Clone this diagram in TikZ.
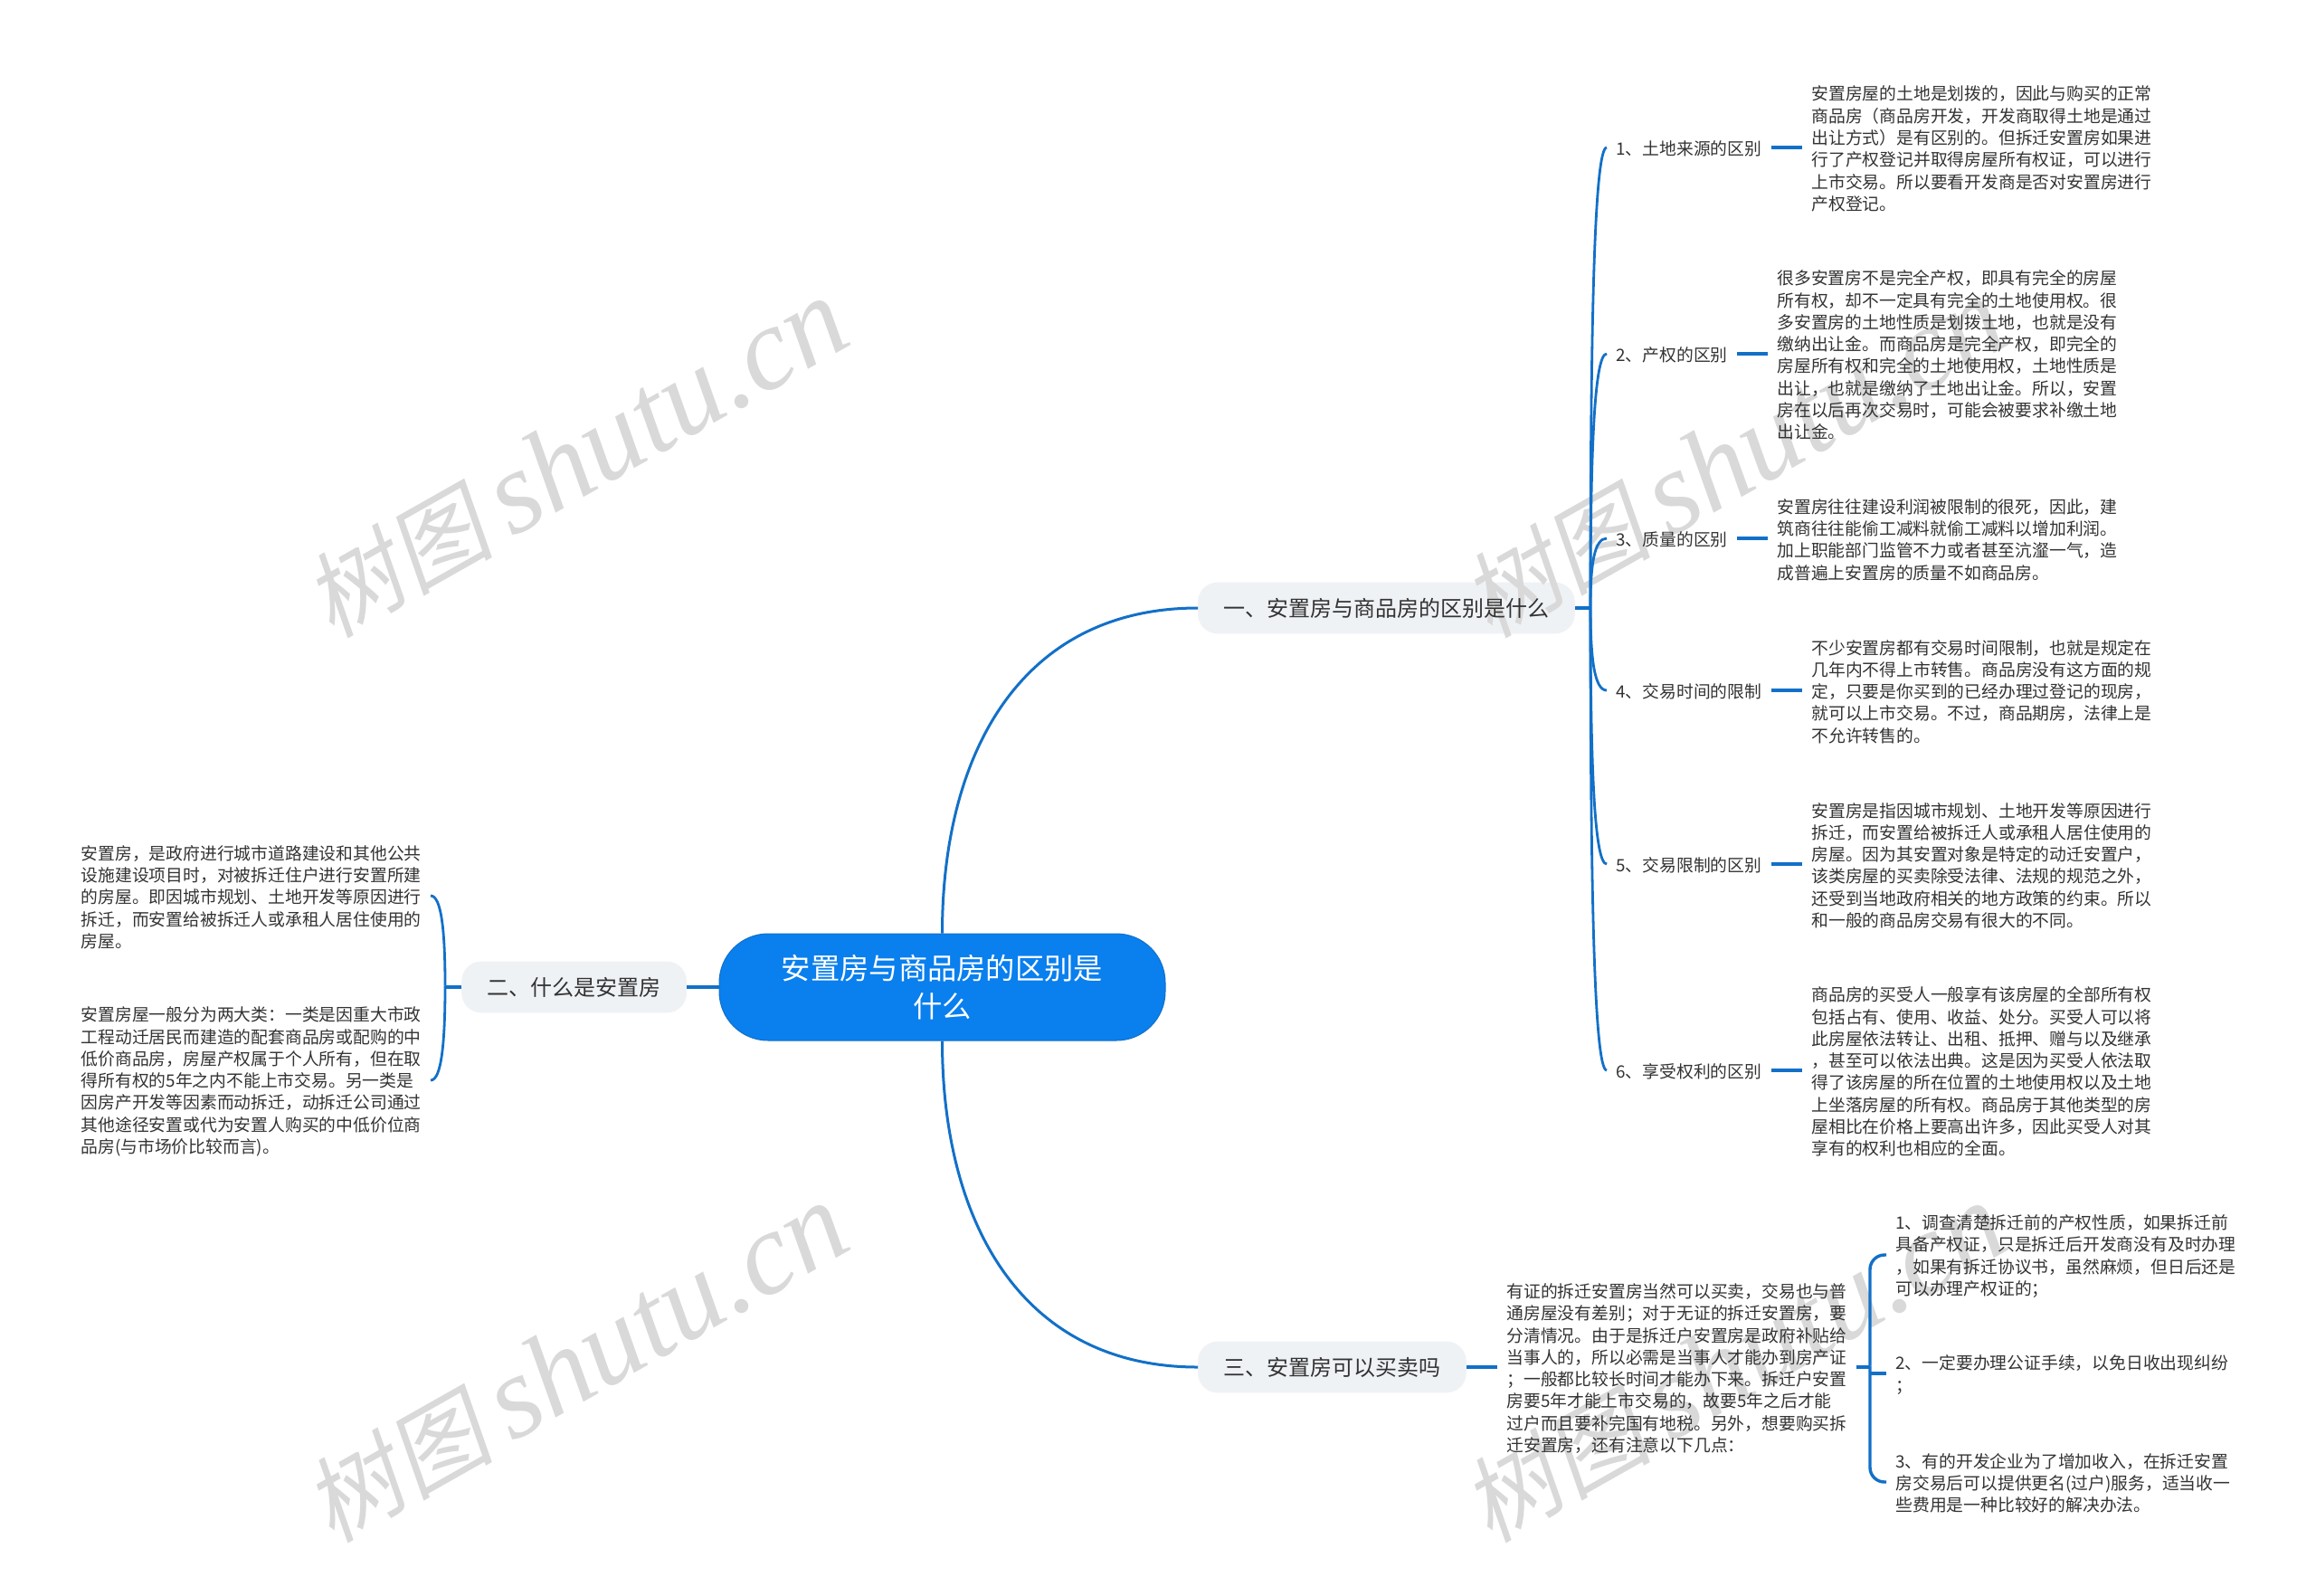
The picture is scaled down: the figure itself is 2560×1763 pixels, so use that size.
\documentclass[tikz,border=0pt]{standalone}
\usepackage{fontspec}
\usetikzlibrary{calc}
\setmainfont{Noto Sans CJK SC}
\newfontfamily\wmcjk[FakeSlant=0.18]{Noto Sans CJK SC}
\newfontfamily\wmlatin{Liberation Serif}[ItalicFont={Liberation Serif Italic}]
\definecolor{linkblue}{HTML}{1270C8}
\definecolor{rootblue}{HTML}{0A7FEE}
\definecolor{pillgrey}{HTML}{EFF2F5}
\definecolor{inkgrey}{HTML}{333333}
\definecolor{wmgrey}{HTML}{D9D9D9}
\pgfdeclarelayer{back}
\pgfdeclarelayer{wm}
\pgfsetlayers{back,wm,main}
\tikzset{
  x=0.5pt,y=-0.5pt,
  root/.style={fill=rootblue,draw=linkblue,line width=0.5pt,text=white,rounded corners=27pt,minimum width=246.5pt,minimum height=59pt,inner sep=0pt,align=center,font=\fontsize{16.15pt}{21pt}\selectfont},
  pill/.style={text=inkgrey,inner xsep=14pt,inner ysep=0pt,minimum height=28pt,font=\fontsize{12pt}{14pt}\selectfont},
  small/.style={text=inkgrey,inner xsep=5pt,inner ysep=0pt,align=left,yshift=-0.75pt,font=\fontsize{9.4pt}{12.13pt}\selectfont},
  mainlink/.style={draw=linkblue,line width=1.5pt},
  hooklink/.style={draw=linkblue,line width=1.4pt,transform canvas={yshift=0.75pt}},
  stublink/.style={draw=linkblue,line width=1.7pt},
  leaflink/.style={stublink,transform canvas={yshift=0.75pt}},
  bracelink/.style={draw=linkblue,line width=1.7pt,rounded corners=8pt,transform canvas={yshift=0.75pt}},
  watermark/.style={text=wmgrey,rotate=29.5,inner sep=0pt}
}
\newcommand{\wmtext}{{\fontsize{52pt}{60pt}\wmcjk 树图}\hspace{10pt}{\fontsize{65pt}{60pt}\wmlatin\itshape shutu.cn}}
\newcommand{\hookright}[2]{\draw[hooklink] (#1) .. controls ($(#1)!0.6!(#1 |- #2.west)$) and ([xshift=2pt]#1 |- #2.west) .. (#2.west);}
\newcommand{\hookleft}[2]{\draw[hooklink] (#1) .. controls ($(#1)!0.6!(#1 |- #2.east)$) and ([xshift=-2pt]#1 |- #2.east) .. (#2.east);}
\newcommand{\pillfill}[1]{\begin{pgfonlayer}{back}\fill[pillgrey,rounded corners=11pt] (#1.south west) rectangle (#1.north east);\end{pgfonlayer}}
\newcommand{\pilltext}[1]{\raisebox{-0.6pt}{#1}}
\begin{document}
\begin{tikzpicture}
\begin{pgfonlayer}{back}
\fill[white] (0,0) rectangle (2560,1763);
\end{pgfonlayer}
\useasboundingbox (0,0) rectangle (2560,1763);
\begin{pgfonlayer}{wm}
\node[watermark] (wm1) at (637,507) {\wmtext};
\node[watermark] (wm2) at (1917,507) {\wmtext};
\node[watermark] (wm3) at (637,1507) {\wmtext};
\node[watermark] (wm4) at (1917,1507) {\wmtext};
\end{pgfonlayer}

\node[root] (root) at (1041.5,1091) {安置房与商品房的区别是\\什么};

\node[pill,anchor=west] (p1) at (1324,672) {\pilltext{一、安置房与商品房的区别是什么}};
\node[pill,anchor=east] (p2) at (759,1091) {\pilltext{二、什么是安置房}};
\node[pill,anchor=west] (p3) at (1324,1511) {\pilltext{三、安置房可以买卖吗}};
\pillfill{p1}\pillfill{p2}\pillfill{p3}

\coordinate (s1) at (1758,672);
\coordinate (s2) at (492,1091);

\node[small,anchor=west] (l1) at (1776,163) {1、土地来源的区别};
\node[small,anchor=west] (l2) at (1776,391) {2、产权的区别};
\node[small,anchor=west] (l3) at (1776,595) {3、质量的区别};
\node[small,anchor=west] (l4) at (1776,763) {4、交易时间的限制};
\node[small,anchor=west] (l5) at (1776,955) {5、交易限制的区别};
\node[small,anchor=west] (l6) at (1776,1183) {6、享受权利的区别};

\node[small,anchor=west] (t1) at (1992,163) {安置房屋的土地是划拨的，因此与购买的正常\\商品房（商品房开发，开发商取得土地是通过\\出让方式）是有区别的。但拆迁安置房如果进\\行了产权登记并取得房屋所有权证，可以进行\\上市交易。所以要看开发商是否对安置房进行\\产权登记。};
\node[small,anchor=west] (t2) at (1954,391) {很多安置房不是完全产权，即具有完全的房屋\\所有权，却不一定具有完全的土地使用权。很\\多安置房的土地性质是划拨土地，也就是没有\\缴纳出让金。而商品房是完全产权，即完全的\\房屋所有权和完全的土地使用权，土地性质是\\出让，也就是缴纳了土地出让金。所以，安置\\房在以后再次交易时，可能会被要求补缴土地\\出让金。};
\node[small,anchor=west] (t3) at (1954,595) {安置房往往建设利润被限制的很死，因此，建\\筑商往往能偷工减料就偷工减料以增加利润。\\加上职能部门监管不力或者甚至沆瀣一气，造\\成普遍上安置房的质量不如商品房。};
\node[small,anchor=west] (t4) at (1992,763) {不少安置房都有交易时间限制，也就是规定在\\几年内不得上市转售。商品房没有这方面的规\\定，只要是你买到的已经办理过登记的现房，\\就可以上市交易。不过，商品期房，法律上是\\不允许转售的。};
\node[small,anchor=west] (t5) at (1992,955) {安置房是指因城市规划、土地开发等原因进行\\拆迁，而安置给被拆迁人或承租人居住使用的\\房屋。因为其安置对象是特定的动迁安置户，\\该类房屋的买卖除受法律、法规的规范之外，\\还受到当地政府相关的地方政策的约束。所以\\和一般的商品房交易有很大的不同。};
\node[small,anchor=west] (t6) at (1992,1183) {商品房的买受人一般享有该房屋的全部所有权\\包括占有、使用、收益、处分。买受人可以将\\此房屋依法转让、出租、抵押、赠与以及继承\\，甚至可以依法出典。这是因为买受人依法取\\得了该房屋的所在位置的土地使用权以及土地\\上坐落房屋的所有权。商品房于其他类型的房\\屋相比在价格上要高出许多，因此买受人对其\\享有的权利也相应的全面。};

\node[small,anchor=east] (d1) at (476,990) {安置房，是政府进行城市道路建设和其他公共\\设施建设项目时，对被拆迁住户进行安置所建\\的房屋。即因城市规划、土地开发等原因进行\\拆迁，而安置给被拆迁人或承租人居住使用的\\房屋。};
\node[small,anchor=east] (d2) at (476,1194) {安置房屋一般分为两大类：一类是因重大市政\\工程动迁居民而建造的配套商品房或配购的中\\低价商品房，房屋产权属于个人所有，但在取\\得所有权的5年之内不能上市交易。另一类是\\因房产开发等因素而动拆迁，动拆迁公司通过\\其他途径安置或代为安置人购买的中低价位商\\品房(与市场价比较而言)。};

\node[small,anchor=west] (q0) at (1655,1511) {有证的拆迁安置房当然可以买卖，交易也与普\\通房屋没有差别；对于无证的拆迁安置房，要\\分清情况。由于是拆迁户安置房是政府补贴给\\当事人的，所以必需是当事人才能办到房产证\\；一般都比较长时间才能办下来。拆迁户安置\\房要5年才能上市交易的，故要5年之后才能\\过户而且要补完国有地税。另外，想要购买拆\\迁安置房，还有注意以下几点：};
\coordinate (s3) at (2067,1511);
\node[small,anchor=west] (q1) at (2085,1387) {1、调查清楚拆迁前的产权性质，如果拆迁前\\具备产权证，只是拆迁后开发商没有及时办理\\，如果有拆迁协议书，虽然麻烦，但日后还是\\可以办理产权证的；};
\node[small,anchor=west] (q2) at (2085,1518) {2、一定要办理公证手续，以免日收出现纠纷\\；};
\node[small,anchor=west] (q3) at (2085,1638) {3、有的开发企业为了增加收入，在拆迁安置\\房交易后可以提供更名(过户)服务，适当收一\\些费用是一种比较好的解决办法。};

\draw[mainlink] (root.north) .. controls ($(root.north)!0.56!(root.north |- p1.west)$) and ([xshift=-97pt]p1.west) .. (p1.west);
\draw[mainlink] (root.south) .. controls ($(root.south)!0.56!(root.south |- p3.west)$) and ([xshift=-97pt]p3.west) .. (p3.west);
\draw[stublink] (root.west) -- (p2.east);
\draw[stublink] (p1.east) -- (s1);
\draw[stublink] (p2.west) -- (s2);
\draw[stublink] (p3.east) -- (p3.east -| q0.west);

\hookright{s1}{l1}\hookright{s1}{l2}\hookright{s1}{l3}
\hookright{s1}{l4}\hookright{s1}{l5}\hookright{s1}{l6}
\draw[leaflink] (l1.east) -- (t1.west);
\draw[leaflink] (l2.east) -- (t2.west);
\draw[leaflink] (l3.east) -- (t3.west);
\draw[leaflink] (l4.east) -- (t4.west);
\draw[leaflink] (l5.east) -- (t5.west);
\draw[leaflink] (l6.east) -- (t6.west);

\hookleft{s2}{d1}\hookleft{s2}{d2}

\draw[stublink] (q0.east |- s3) -- (s3);
\draw[bracelink] (s3) |- (q1.west);
\draw[bracelink] (s3) |- (q3.west);
\draw[leaflink] (s3 |- q2.west) -- (q2.west);
\end{tikzpicture}
\end{document}
